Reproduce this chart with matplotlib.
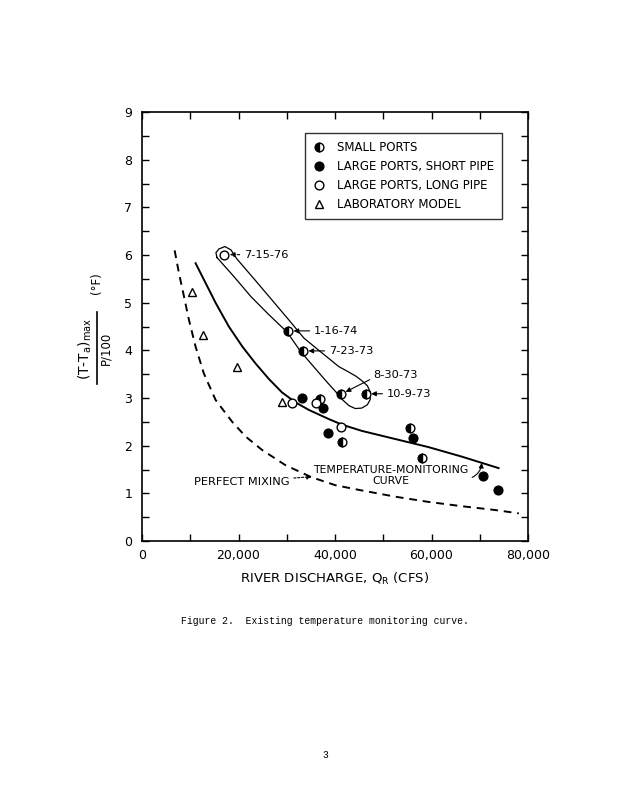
import numpy as np
import matplotlib
matplotlib.use("Agg")
from matplotlib import pyplot as plt
from matplotlib.lines import Line2D

# river discharge (cfs) / normalized temperature rise
small_x = [30200, 33300, 41200, 46400, 36800, 41400, 55500, 58000]
small_y = [4.41, 3.99, 3.09, 3.09, 2.98, 2.07, 2.38, 1.75]

short_x = [33100, 37500, 38500, 56100, 70600, 73700]
short_y = [3.00, 2.79, 2.27, 2.17, 1.37, 1.07]

long_x = [17000, 31000, 36000, 41200]
long_y = [6.01, 2.90, 2.90, 2.40]

lab_x = [10400, 12600, 19600, 29100]
lab_y = [5.22, 4.32, 3.65, 2.92]

# temperature-monitoring curve
mon_x = [11100, 13200, 15300, 18000, 20800, 23500, 26300, 29000, 31800, 34600,
         38700, 41500, 45600, 52500, 59400, 66300, 73900]
mon_y = [5.83, 5.41, 4.99, 4.50, 4.08, 3.73, 3.40, 3.12, 2.91, 2.75,
         2.56, 2.44, 2.31, 2.14, 1.97, 1.77, 1.53]

# perfect mixing curve
mix_x = [6760, 7660, 8700, 9730, 11100, 12800, 15250, 18700, 21500, 24900,
         29750, 35100, 40100, 45600, 52500, 59400, 66300, 73200, 78100]
mix_y = [6.10, 5.62, 5.13, 4.64, 4.08, 3.52, 2.96, 2.50, 2.19, 1.91,
         1.59, 1.34, 1.17, 1.06, 0.93, 0.82, 0.73, 0.65, 0.58]

# envelope drawn round the small-port runs
env_x = [15530, 19050, 22570, 26290, 30020, 32920, 35820, 38300, 40170, 41600,
         42900, 44200, 45550, 46700, 47300, 47350, 46700, 45500, 44310, 42600,
         40790, 37270, 33540, 30430, 26920, 23400, 19670, 18430, 17180, 15940,
         15320, 15530]
env_y = [5.95, 5.55, 5.13, 4.75, 4.39, 3.97, 3.63, 3.34, 3.13, 2.96,
         2.84, 2.78, 2.79, 2.86, 2.97, 3.12, 3.26, 3.37, 3.46, 3.56,
         3.66, 3.95, 4.26, 4.64, 5.06, 5.48, 5.92, 6.11, 6.18, 6.13,
         6.05, 5.95]

plt.rcParams['font.family'] = ['DejaVu Sans']

fig = plt.figure(figsize=(6.18, 8.0), dpi=100)
ax = fig.add_axes([0.2298, 0.32375, 0.6246, 0.536])

ax.plot(mix_x, mix_y, color='black', lw=1.4, linestyle=(0, (4, 3)))
ax.plot(mon_x, mon_y, color='black', lw=1.4)
ax.plot(env_x, env_y, color='black', lw=0.9)

ms = 6.3
ax.plot(small_x, small_y, 'o', ms=ms, mfc='black', mec='black', fillstyle='left',
        markerfacecoloralt='white', mew=1.0)
ax.plot(short_x, short_y, 'o', ms=ms, color='black')
ax.plot(long_x, long_y, 'o', ms=ms, mfc='white', mec='black', mew=1.0)
ax.plot(lab_x, lab_y, '^', ms=ms, mfc='white', mec='black', mew=1.0)

fs = 8.2
arr = dict(arrowstyle='-|>', color='black', lw=0.8, mutation_scale=7,
           shrinkA=1, shrinkB=0)
ax.annotate('7-15-76', xy=(18200, 6.01), xytext=(21100, 6.01), fontsize=fs,
            va='center', arrowprops=dict(arr, linestyle=(0, (2, 1.5))))
ax.annotate('1-16-74', xy=(31400, 4.41), xytext=(35600, 4.41), fontsize=fs,
            va='center', arrowprops=arr)
ax.annotate('7-23-73', xy=(34500, 3.99), xytext=(38700, 3.99), fontsize=fs,
            va='center', arrowprops=arr)
ax.annotate('8-30-73', xy=(42200, 3.13), xytext=(48000, 3.49), fontsize=fs,
            va='center', arrowprops=dict(arr, relpos=(0.0, 0.2)))
ax.annotate('10-9-73', xy=(47500, 3.09), xytext=(50700, 3.09), fontsize=fs,
            va='center', arrowprops=arr)
ax.annotate('TEMPERATURE-MONITORING\nCURVE', xy=(70400, 1.64), xytext=(51500, 1.37),
            fontsize=7.8, ha='center', va='center', linespacing=1.1,
            arrowprops=dict(arr, connectionstyle='arc3,rad=0.35',
                            relpos=(1.0, 0.35)))
ax.annotate('PERFECT MIXING', xy=(35200, 1.35), xytext=(10800, 1.24), fontsize=fs,
            va='center', arrowprops=dict(arr, linestyle=(0, (2, 1.5))))

handles = [
    Line2D([], [], marker='o', ls='', ms=ms, mfc='black', mec='black',
           fillstyle='left', markerfacecoloralt='white'),
    Line2D([], [], marker='o', ls='', ms=ms, color='black'),
    Line2D([], [], marker='o', ls='', ms=ms, mfc='white', mec='black'),
    Line2D([], [], marker='^', ls='', ms=ms, mfc='white', mec='black'),
]
labels = ['SMALL PORTS', 'LARGE PORTS, SHORT PIPE', 'LARGE PORTS, LONG PIPE',
          'LABORATORY MODEL']
leg = ax.legend(handles, labels, loc='upper left', bbox_to_anchor=(0.422, 0.951),
                fontsize=8.5, frameon=True, fancybox=False, handlelength=1.0,
                handletextpad=1.0, labelspacing=0.5, borderpad=0.7,
                borderaxespad=0)
leg.get_frame().set_edgecolor('black')
leg.get_frame().set_linewidth(1.0)

ax.set_xlim(0, 80000)
ax.set_ylim(0, 9)
ax.set_xticks(np.arange(0, 80001, 20000))
ax.set_xticklabels(['0', '20,000', '40,000', '60,000', '80,000'])
ax.set_xticks(np.arange(0, 80001, 10000), minor=True)
ax.set_yticks(np.arange(0, 10, 1))
ax.set_yticks(np.arange(0, 9.01, 0.5), minor=True)
ax.tick_params(which='both', direction='in', top=True, right=True,
               length=5, width=1.0, labelsize=9)
ax.tick_params(axis='x', pad=6)
ax.tick_params(axis='y', pad=7)
for s in ax.spines.values():
    s.set_linewidth(1.2)

ax.set_xlabel('RIVER DISCHARGE, $\\mathregular{Q_R}$ (CFS)', fontsize=9.5, labelpad=6)

# stacked fraction for the y label
fig.text(85 / 618, 1 - 349 / 800, r'(T-T$_\mathregular{a}$)$_\mathregular{max}$',
         rotation=90, fontsize=10, ha='center', va='center')
fig.add_artist(Line2D([97 / 618, 97 / 618], [1 - 312 / 800, 1 - 384 / 800],
                      color='black', lw=1.2))
fig.text(106 / 618, 1 - 348 / 800, 'P/100', rotation=90, fontsize=8.5,
         ha='center', va='center')
fig.text(97 / 618, 1 - 283 / 800, '(°F)', rotation=90, fontsize=8.5,
         ha='center', va='center')

fig.text(0.525, 0.224, 'Figure 2.  Existing temperature monitoring curve.',
         family='Liberation Mono', fontsize=7, ha='center', va='center')
fig.text(0.527, 0.056, '3', family='Liberation Mono', fontsize=7,
         ha='center', va='center')

fig.savefig('out.png', dpi=100)
